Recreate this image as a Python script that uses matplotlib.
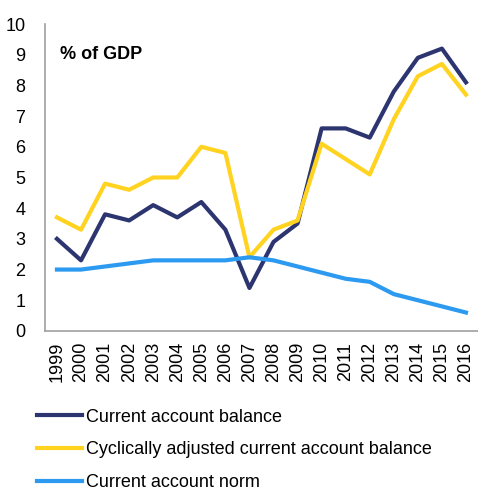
import matplotlib.pyplot as plt
import numpy as np

plt.rcParams['font.family'] = ['Liberation Sans', 'DejaVu Sans']

years = ["1999", "2000", "2001", "2002", "2003", "2004", "2005", "2006", "2007",
         "2008", "2009", "2010", "2011", "2012", "2013", "2014", "2015", "2016"]
ca_balance = [3.0, 2.3, 3.8, 3.6, 4.1, 3.7, 4.2, 3.3, 1.4, 2.9, 3.5, 6.6, 6.6, 6.3, 7.8, 8.9, 9.2, 8.1]
ca_cyclical = [3.7, 3.3, 4.8, 4.6, 5.0, 5.0, 6.0, 5.8, 2.4, 3.3, 3.6, 6.1, 5.6, 5.1, 6.9, 8.3, 8.7, 7.7]
ca_norm = [2.0, 2.0, 2.1, 2.2, 2.3, 2.3, 2.3, 2.3, 2.4, 2.3, 2.1, 1.9, 1.7, 1.6, 1.2, 1.0, 0.8, 0.6]

fig = plt.figure(figsize=(4.78, 4.91), dpi=100)
ax = fig.add_axes([0.094, 0.326, 0.906, 0.625])

x = np.arange(len(years))
ax.plot(x, ca_balance, color="#2d3570", lw=3, label="Current account balance")
ax.plot(x, ca_cyclical, color="#ffd320", lw=3, label="Cyclically adjusted current account balance")
ax.plot(x, ca_norm, color="#2c9af0", lw=3, label="Current account norm")

ax.set_xlim(-0.5, 17.5)
ax.set_ylim(0, 10)
ax.set_yticks(range(0, 11))
ax.set_xticks(x)
ax.set_xticklabels(years, rotation=90)
ax.tick_params(length=0, labelsize=13, colors="black")
ax.tick_params(axis="y", pad=14)
ax.tick_params(axis="x", pad=8)
for s in ["top", "right"]:
    ax.spines[s].set_visible(False)
for s in ["left", "bottom"]:
    ax.spines[s].set_color("#a0a0a0")
    ax.spines[s].set_linewidth(1.2)

ax.text(0.035, 0.93, "% of GDP", transform=ax.transAxes, fontsize=13,
        fontweight="bold", va="top")

fig.legend(loc="upper left", bbox_to_anchor=(0.077, 0.168), frameon=False,
           fontsize=13, handlelength=2.5, handletextpad=0.25, labelspacing=0.88,
           borderaxespad=0, borderpad=0)

fig.savefig("out.png", dpi=100)
